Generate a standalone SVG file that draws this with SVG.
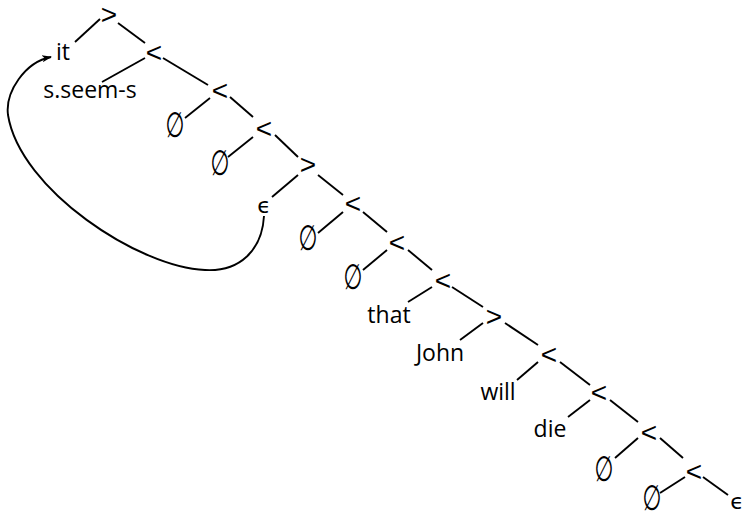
<svg xmlns="http://www.w3.org/2000/svg" width="743" height="514" viewBox="0 0 743 514">
<style>
.t{font-family:"Open Sans","Liberation Sans",sans-serif;font-size:23px;fill:#000;text-anchor:middle}
.op{font-family:"Liberation Sans",sans-serif;font-size:28px;fill:#000;text-anchor:middle}
.es{font-family:"DejaVu Sans",sans-serif;font-size:35px;fill:#000;text-anchor:middle}
.ep{font-family:"DejaVu Sans",sans-serif;font-size:22px;fill:#000;text-anchor:middle}
.e line{stroke:#000;stroke-width:1.9;stroke-linecap:butt}
.arc{fill:none;stroke:#000;stroke-width:1.9}
</style>
<defs>
<marker id="ah" viewBox="0 0 10 10" refX="9" refY="5" markerWidth="10" markerHeight="10" markerUnits="userSpaceOnUse" orient="auto">
<path d="M0,1.5 L10,5 L0,8.5 L2.5,5 Z" fill="#000"/>
</marker>
</defs>
<rect width="743" height="514" fill="#fff"/>
<g id="connectors" class="e">
<line x1="100" y1="19" x2="75" y2="42"/>
<line x1="118" y1="23" x2="145" y2="43"/>
<line x1="145" y1="58" x2="102" y2="82"/>
<line x1="163" y1="58" x2="208" y2="85"/>
<line x1="210" y1="98" x2="185" y2="118"/>
<line x1="230" y1="97" x2="253" y2="117"/>
<line x1="253" y1="137" x2="228" y2="157"/>
<line x1="275" y1="135" x2="298" y2="157"/>
<line x1="298" y1="175" x2="272" y2="197"/>
<line x1="318" y1="175" x2="343" y2="195"/>
<line x1="343" y1="212" x2="318" y2="233"/>
<line x1="363" y1="212" x2="387" y2="232"/>
<line x1="387" y1="250" x2="363" y2="270"/>
<line x1="408" y1="250" x2="432" y2="270"/>
<line x1="432" y1="287" x2="408" y2="302"/>
<line x1="452" y1="287" x2="483" y2="307"/>
<line x1="483" y1="323" x2="460" y2="340"/>
<line x1="505" y1="323" x2="538" y2="345"/>
<line x1="538" y1="362" x2="517" y2="380"/>
<line x1="560" y1="362" x2="590" y2="385"/>
<line x1="590" y1="400" x2="568" y2="417"/>
<line x1="610" y1="400" x2="638" y2="422"/>
<line x1="638" y1="438" x2="615" y2="458"/>
<line x1="660" y1="438" x2="683" y2="458"/>
<line x1="685" y1="477" x2="660" y2="493"/>
<line x1="703" y1="477" x2="728" y2="495"/>
<path class="arc" marker-end="url(#ah)" d="M264,216 C262,250 240,272 205,270 C140,268 20,190 8,115 C5,92 25,62 51,57"/>
</g>
<g id="n1"><text class="op" x="109" y="24">&gt;</text></g>
<g id="it"><text class="t" x="63" y="60">it</text></g>
<g id="n2"><text class="op" x="154" y="62">&lt;</text></g>
<g id="seem"><text class="t" x="90" y="98">s.seem-s</text></g>
<g id="n3"><text class="op" x="220" y="100">&lt;</text></g>
<g id="e1"><text class="es" transform="translate(175,137) scale(0.62,1)" x="0" y="0">∅</text></g>
<g id="n4"><text class="op" x="264" y="138">&lt;</text></g>
<g id="e2"><text class="es" transform="translate(220,175) scale(0.62,1)" x="0" y="0">∅</text></g>
<g id="n5"><text class="op" x="308" y="174">&gt;</text></g>
<g id="eps1"><text class="ep" x="264" y="213">ϵ</text></g>
<g id="n6"><text class="op" x="353" y="213">&lt;</text></g>
<g id="e3"><text class="es" transform="translate(308,250) scale(0.62,1)" x="0" y="0">∅</text></g>
<g id="n7"><text class="op" x="397" y="252">&lt;</text></g>
<g id="e4"><text class="es" transform="translate(353,289) scale(0.62,1)" x="0" y="0">∅</text></g>
<g id="n8"><text class="op" x="443" y="290">&lt;</text></g>
<g id="that"><text class="t" x="389" y="323">that</text></g>
<g id="n9"><text class="op" x="494" y="326">&gt;</text></g>
<g id="john"><text class="t" x="440" y="361">John</text></g>
<g id="n10"><text class="op" x="549" y="364">&lt;</text></g>
<g id="will"><text class="t" x="498" y="400">will</text></g>
<g id="n11"><text class="op" x="599" y="402">&lt;</text></g>
<g id="die"><text class="t" x="550" y="437">die</text></g>
<g id="n12"><text class="op" x="649" y="442">&lt;</text></g>
<g id="e5"><text class="es" transform="translate(604,481) scale(0.62,1)" x="0" y="0">∅</text></g>
<g id="n13"><text class="op" x="694" y="481">&lt;</text></g>
<g id="e6"><text class="es" transform="translate(652,510) scale(0.62,1)" x="0" y="0">∅</text></g>
<g id="eps2"><text class="ep" x="737" y="509">ϵ</text></g>
</svg>
